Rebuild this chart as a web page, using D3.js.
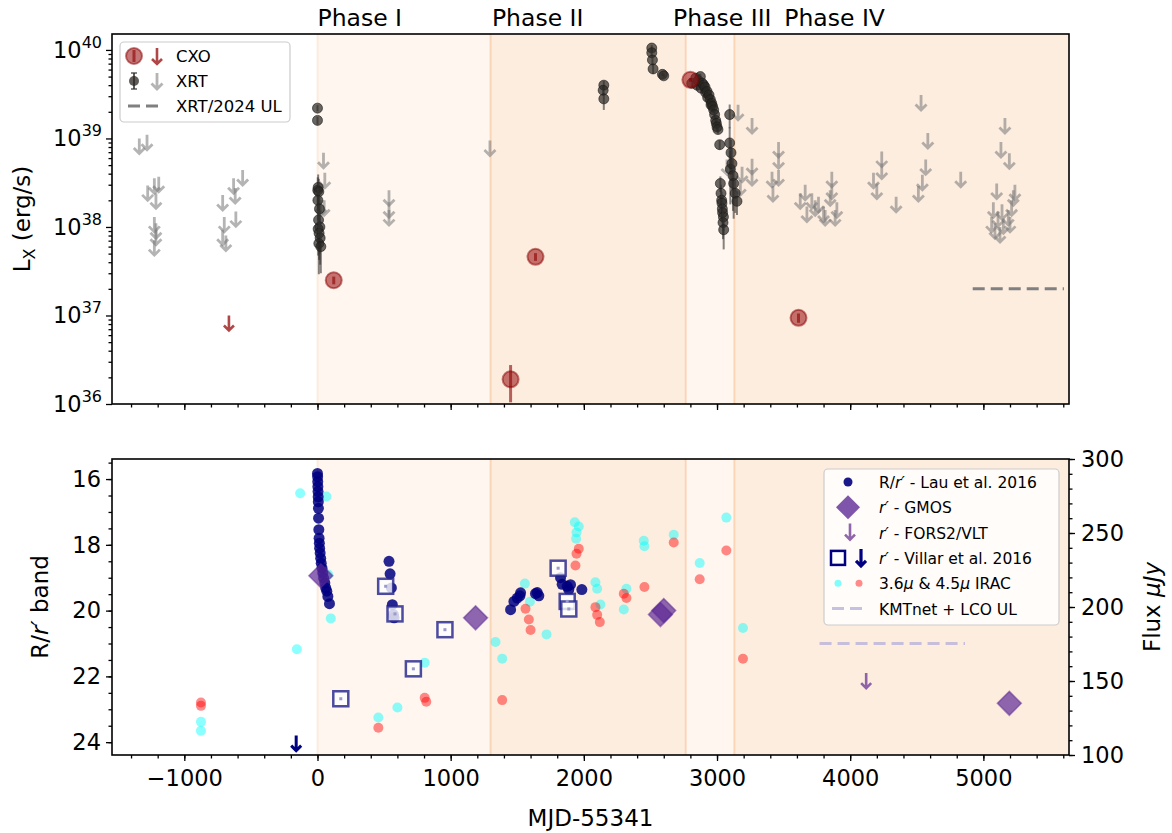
<!DOCTYPE html>
<html>
<head>
<meta charset="utf-8">
<script src="https://cdn.jsdelivr.net/npm/d3@7"></script>
<style>
  body { margin: 0; background: #fff; }
  text { font-family: "DejaVu Sans", sans-serif; fill: #000; }
</style>
</head>
<body>
<svg id="chart" width="1172" height="833"></svg>
<script>
// DATA (MJD-55341 on x)
const phaseNames = ["Phase I", "Phase II", "Phase III", "Phase IV"];
const phaseStarts = [0, 1300, 2765, 3130];
const phaseLabelAt = [0, 1310, 2670, 3505];

// X-ray: [mjd, L] and [mjd, L, fractional error]
const cxoDet = [[122, 2.5e37, 0.1], [1450, 1.9e36, 0.45], [1637, 4.6e37, 0.1], [2800, 4.6e39, 0.05], [3612, 9.4e36, 0.12]];
const cxoUL = [[-665, 1.0e37]];
const xrtDet = [
  [0, 2.2e39, 0.08], [0, 1.6e39, 0.1],
  [2, 2.6e38, 0.4], [5, 2.8e38, 0.4], [10, 2.5e38, 0.4], [3, 2.0e38, 0.4], [15, 1.6e38, 0.4],
  [8, 1.2e38, 0.5], [18, 1.0e38, 0.5], [5, 9.5e37, 0.5], [12, 8.5e37, 0.5], [20, 7.5e37, 0.5],
  [10, 6.5e37, 0.55], [25, 6.0e37, 0.5],
  [2150, 4.0e39, 0.12], [2145, 3.5e39, 0.12], [2150, 2.8e39, 0.25],
  [2510, 1.05e40, 0.08], [2510, 9.3e39, 0.08], [2515, 7.7e39, 0.12], [2520, 6.1e39, 0.12],
  [2590, 5.3e39, 0.04], [2600, 5.1e39, 0.04],
  [2810, 4.2e39, 0.1], [2840, 4.8e39, 0.1], [2850, 4.0e39, 0.1], [2860, 4.5e39, 0.08], [2875, 5.0e39, 0.08],
  [2880, 3.7e39, 0.08], [2890, 4.2e39, 0.08], [2900, 4.0e39, 0.08], [2910, 3.8e39, 0.08], [2915, 3.3e39, 0.08],
  [2925, 3.4e39, 0.08], [2930, 2.9e39, 0.08], [2940, 3.1e39, 0.08], [2950, 2.75e39, 0.08], [2955, 2.4e39, 0.08],
  [2960, 2.5e39, 0.08], [2967, 2.3e39, 0.08], [2975, 2.1e39, 0.08], [2982, 1.86e39, 0.1], [2990, 1.6e39, 0.1],
  [2995, 1.48e39, 0.1], [3000, 1.35e39, 0.1], [3007, 1.26e39, 0.1], [3020, 8.5e38, 0.12],
  [3025, 3.1e38, 0.2], [3030, 2.4e38, 0.25], [3035, 2.0e38, 0.25], [3037, 1.86e38, 0.25], [3040, 1.6e38, 0.3],
  [3042, 1.45e38, 0.3], [3048, 1.3e38, 0.3], [3045, 1.12e38, 0.35], [3050, 9.3e37, 0.4],
  [3095, 1.86e39, 0.3], [3095, 8.9e38, 0.5], [3100, 4.5e38, 0.6], [3105, 6.9e38, 0.4], [3112, 5.2e38, 0.5],
  [3120, 3.8e38, 0.6], [3125, 3.1e38, 0.6], [3137, 2.4e38, 0.4], [3150, 1.95e38, 0.3]
];
const xrtUL = [
  [-1338, 1.0e39], [-1280, 1.1e39], [-1275, 2.95e38], [-1225, 3.55e38], [-1192, 3.7e38], [-1213, 2.4e38],
  [-1225, 1.3e38], [-1213, 1.1e38], [-1213, 9.3e37], [-1225, 7.1e37],
  [-712, 2.3e38], [-700, 1.3e38], [-712, 9.3e37], [-688, 8.0e37], [-630, 3.55e38], [-618, 2.75e38],
  [-562, 4.4e38], [-613, 1.5e38],
  [45, 6.9e38], [55, 4.1e38], [50, 2.0e38], [25, 2.0e38],
  [537, 2.6e38], [537, 1.9e38], [537, 1.55e38], [1295, 9.5e38],
  [3158, 2.4e39], [3263, 1.7e39], [3462, 9.1e38], [3462, 6.8e38], [3462, 4.4e38], [3413, 4.2e38],
  [3420, 2.9e38], [3263, 5.9e38], [3263, 4.4e38], [3188, 4.8e38], [3175, 3.4e38], [3075, 5.8e38],
  [3625, 2.4e38], [3662, 3.0e38], [3675, 1.7e38], [3712, 2.4e38], [3737, 2.0e38], [3762, 2.2e38],
  [3800, 1.7e38], [3812, 1.55e38], [3862, 4.2e38], [3862, 3.1e38], [3850, 2.6e38], [3887, 1.55e38],
  [3900, 1.9e38],
  [4237, 7.1e38], [4237, 5.2e38], [4175, 4.1e38], [4200, 3.1e38], [4345, 2.2e38], [4532, 3.1e39],
  [4583, 1.15e39], [4567, 5.8e38], [4542, 3.9e38], [4512, 2.9e38], [4830, 4.2e38],
  [5162, 1.7e39], [5132, 9.1e38], [5195, 6.8e38], [5100, 3.1e38], [5075, 1.9e38], [5062, 1.3e38],
  [5087, 1.1e38], [5125, 1.0e38], [5150, 1.25e38], [5187, 1.55e38], [5212, 2.0e38], [5225, 2.6e38],
  [5237, 3.0e38], [5200, 1.3e38], [5110, 1.5e38], [5140, 1.8e38]
];
const xrt2024UL = [[4920, 2e37], [5605, 2e37]];

// optical: [mjd, mag]
const lauR = [
  [0, 15.83], [1, 15.93], [2, 16.08], [3, 16.23], [4, 16.38], [5, 16.54], [6, 16.69], [7, 16.89],
  [8, 17.19], [10, 17.54], [12, 17.8], [14, 17.95], [16, 18.1], [20, 18.25], [24, 18.41], [28, 18.56],
  [34, 18.71], [40, 18.86], [46, 19.01], [55, 19.16], [62, 19.31], [70, 19.41], [78, 19.57], [90, 19.79],
  [537, 18.5], [545, 18.88], [555, 19.31], [562, 19.82], [570, 20.12], [575, 20.22],
  [1450, 19.97], [1475, 19.72], [1500, 19.62], [1525, 19.46], [1520, 19.55], [1637, 19.48], [1662, 19.55],
  [1650, 19.45], [1825, 19.0], [1837, 19.2], [1875, 19.26], [1900, 19.21], [1887, 19.36], [1985, 19.36]
];
const gmos = [[25, 18.94], [1187, 20.22], [2575, 20.12], [2600, 20.0], [5195, 22.82]];
const forsUL = [[4120, 21.9]];
const villar = [[512, 19.26], [582, 20.1], [957, 20.58], [720, 21.77], [175, 22.68], [1807, 18.71], [1875, 19.72], [1887, 19.95]];
const villarUL = [[-160, 23.8]];
const kmtUL = [[3770, 21.0], [4862, 21.0]];

// IRAC fluxes in microJy: [mjd, flux]
const irac36 = [
  [-130, 276.9], [67, 274.7], [80, 221.9], [100, 192.3], [-155, 171.4], [-875, 122.4], [-875, 116.4],
  [457, 125.3], [600, 132.1], [805, 162.4], [1337, 176.3], [1387, 165.1], [1557, 215.8], [1595, 203.5],
  [1720, 181.5], [1932, 257.3], [1962, 254.4], [1945, 250.4], [1942, 246.1], [2087, 216.7], [2100, 212.3],
  [2125, 201.7], [2320, 212.3], [2300, 198.3], [2450, 244.8], [2455, 241.0], [2675, 248.8], [2870, 229.7],
  [3070, 260.4], [3195, 185.8]
];
const irac45 = [
  [-875, 135.5], [-875, 133.2], [805, 138.6], [817, 136.0], [457, 118.4], [1387, 137.1],
  [1562, 198.8], [1587, 191.6], [1600, 184.4], [1962, 239.4], [1945, 236.0], [1937, 228.0],
  [2087, 199.9], [2100, 194.7], [2120, 189.8], [2300, 209.0], [2320, 206.1], [2455, 213.5],
  [2675, 243.6], [2870, 218.8], [3070, 238.2], [3195, 165.0]
];

const xTicks = [-1000, 0, 1000, 2000, 3000, 4000, 5000];
const magTicks = [16, 18, 20, 22, 24];
const fluxTicks = [100, 150, 200, 250, 300];

// SETUP
const svg = d3.select("#chart");
const left = 112, right = 1069;
const top1 = 34, bot1 = 404;
const top2 = 459, bot2 = 755;

const x = d3.scaleLinear().domain([-1543, 5643]).range([left, right]);
const yL = d3.scaleLog().domain([1e36, Math.pow(10, 40.18)]).range([bot1, top1]);
const yMag = d3.scaleLinear().domain([15.39, 24.39]).range([top2, bot2]);
const yFlux = d3.scaleLinear().domain([100, 300]).range([bot2, top2]);

const sandy = "#f4a460";
const fmtInt = d3.format("d");

// phase shading in both panels
function drawPhases(g, y0, y1) {
  phaseStarts.forEach((s, i) => {
    const e = i < phaseStarts.length - 1 ? phaseStarts[i + 1] : x.domain()[1];
    g.append("rect")
      .attr("x", x(s)).attr("y", y0)
      .attr("width", x(e) - x(s)).attr("height", y1 - y0)
      .attr("fill", sandy).attr("fill-opacity", i % 2 === 0 ? 0.1 : 0.2);
    g.append("line")
      .attr("x1", x(s)).attr("x2", x(s)).attr("y1", y0).attr("y2", y1)
      .attr("stroke", sandy).attr("stroke-opacity", i === 0 ? 0.15 : 0.35).attr("stroke-width", 2);
  });
}

const gTop = svg.append("g");
const gBot = svg.append("g");
drawPhases(gTop, top1, bot1);
drawPhases(gBot, top2, bot2);

// phase labels
svg.selectAll(".phase").data(phaseNames).enter().append("text")
  .attr("x", (d, i) => x(phaseLabelAt[i]))
  .attr("y", 26)
  .attr("font-size", 23.5)
  .text(d => d);

function arrowPath(px, py, len, head) {
  return `M${px},${py}V${py + len}M${px - head},${py + len - head}L${px},${py + len}L${px + head},${py + len - head}`;
}

// TOP PANEL
svg.append("clipPath").attr("id", "ct").append("rect")
  .attr("x", left).attr("y", top1).attr("width", right - left).attr("height", bot1 - top1);
const marksTop = gTop.append("g").attr("clip-path", "url(#ct)");

// XRT upper limits
marksTop.selectAll(".xul").data(xrtUL).enter().append("path")
  .attr("d", d => arrowPath(x(d[0]), yL(d[1]), 15, 5.5))
  .attr("fill", "none").attr("stroke", "#777").attr("stroke-opacity", 0.55).attr("stroke-width", 2.8);

// XRT 2024 UL
marksTop.append("line")
  .attr("x1", x(xrt2024UL[0][0])).attr("x2", x(xrt2024UL[1][0]))
  .attr("y1", yL(xrt2024UL[0][1])).attr("y2", yL(xrt2024UL[1][1]))
  .attr("stroke", "#808080").attr("stroke-width", 3).attr("stroke-dasharray", "12,6");

// XRT detections with error bars
const xd = marksTop.selectAll(".xd").data(xrtDet).enter().append("g");
xd.append("line")
  .attr("x1", d => x(d[0])).attr("x2", d => x(d[0]))
  .attr("y1", d => yL(d[1] * (1 + d[2]))).attr("y2", d => yL(d[1] * Math.max(1 - d[2], 0.05)))
  .attr("stroke", "#333").attr("stroke-opacity", 0.6).attr("stroke-width", 2);
xd.append("circle")
  .attr("cx", d => x(d[0])).attr("cy", d => yL(d[1])).attr("r", 5)
  .attr("fill", "#2a2622").attr("fill-opacity", 0.7)
  .attr("stroke", "#1a1a1a").attr("stroke-opacity", 0.6).attr("stroke-width", 1);

// CXO
marksTop.selectAll(".cul").data(cxoUL).enter().append("path")
  .attr("d", d => arrowPath(x(d[0]), yL(d[1]), 15, 5))
  .attr("fill", "none").attr("stroke", "#a83232").attr("stroke-opacity", 0.9).attr("stroke-width", 2.6);
const cd = marksTop.selectAll(".cd").data(cxoDet).enter().append("g");
cd.append("circle")
  .attr("cx", d => x(d[0])).attr("cy", d => yL(d[1])).attr("r", 8)
  .attr("fill", "#9e1b1b").attr("fill-opacity", 0.6)
  .attr("stroke", "#8b0000").attr("stroke-opacity", 0.5).attr("stroke-width", 2);
cd.append("line")
  .attr("x1", d => x(d[0])).attr("x2", d => x(d[0]))
  .attr("y1", d => yL(d[1] * (1 + d[2]))).attr("y2", d => yL(d[1] * (1 - d[2])))
  .attr("stroke", "#8b0000").attr("stroke-opacity", 0.6).attr("stroke-width", 3);

// top axes (ticks only, labels are shared with the bottom panel)
gTop.append("g").attr("transform", `translate(0,${bot1})`)
  .call(d3.axisBottom(x).tickValues(d3.range(-1400, 5601, 200)).tickSize(3.5).tickFormat(""))
  .call(g => g.select(".domain").remove());
gTop.append("g").attr("transform", `translate(0,${bot1})`)
  .call(d3.axisBottom(x).tickValues(xTicks).tickSize(6).tickFormat(""))
  .call(g => g.select(".domain").remove());

const logMinor = [];
for (let e = 36; e < 41; e++) for (let m = 2; m <= 9; m++) if (m * Math.pow(10, e) < yL.domain()[1]) logMinor.push(m * Math.pow(10, e));
gTop.append("g").attr("transform", `translate(${left},0)`)
  .call(d3.axisLeft(yL).tickValues(logMinor).tickSize(3.5).tickFormat(""))
  .call(g => g.select(".domain").remove());
const logMajor = [1e36, 1e37, 1e38, 1e39, 1e40];
gTop.append("g").attr("transform", `translate(${left},0)`)
  .call(d3.axisLeft(yL).tickValues(logMajor).tickSize(6).tickFormat(""))
  .call(g => g.select(".domain").remove());
const lbl = gTop.selectAll(".ylab").data(logMajor).enter().append("text")
  .attr("x", left - 10).attr("y", d => yL(d) + 8)
  .attr("text-anchor", "end").attr("font-size", 22.5);
lbl.append("tspan").text("10");
lbl.append("tspan").attr("dy", -10).attr("font-size", 16).text(d => Math.round(Math.log10(d)));

gTop.append("rect").attr("x", left).attr("y", top1).attr("width", right - left).attr("height", bot1 - top1)
  .attr("fill", "none").attr("stroke", "#000").attr("stroke-width", 1.6);

const ylabTop = gTop.append("text")
  .attr("transform", `translate(30,${(top1 + bot1) / 2}) rotate(-90)`)
  .attr("text-anchor", "middle").attr("font-size", 23);
ylabTop.append("tspan").text("L");
ylabTop.append("tspan").attr("font-size", 16).attr("dy", 5).text("X");
ylabTop.append("tspan").attr("dy", -5).text(" (erg/s)");

// top legend
const lg1 = gTop.append("g");
lg1.append("rect").attr("x", 120).attr("y", 42).attr("width", 170).attr("height", 80).attr("rx", 4)
  .attr("fill", "#fff").attr("fill-opacity", 0.8).attr("stroke", "#ccc").attr("stroke-width", 1.2);
lg1.append("circle").attr("cx", 134).attr("cy", 56).attr("r", 8)
  .attr("fill", "#9e1b1b").attr("fill-opacity", 0.6).attr("stroke", "#8b0000").attr("stroke-opacity", 0.5).attr("stroke-width", 2);
lg1.append("line").attr("x1", 134).attr("x2", 134).attr("y1", 50).attr("y2", 62)
  .attr("stroke", "#8b0000").attr("stroke-opacity", 0.6).attr("stroke-width", 3);
lg1.append("path").attr("d", arrowPath(157, 48, 16, 5)).attr("fill", "none")
  .attr("stroke", "#a83232").attr("stroke-opacity", 0.9).attr("stroke-width", 2.6);
lg1.append("line").attr("x1", 134).attr("x2", 134).attr("y1", 73).attr("y2", 89)
  .attr("stroke", "#333").attr("stroke-opacity", 0.8).attr("stroke-width", 2);
lg1.append("line").attr("x1", 131).attr("x2", 137).attr("y1", 73).attr("y2", 73)
  .attr("stroke", "#333").attr("stroke-opacity", 0.8).attr("stroke-width", 1.5);
lg1.append("line").attr("x1", 131).attr("x2", 137).attr("y1", 89).attr("y2", 89)
  .attr("stroke", "#333").attr("stroke-opacity", 0.8).attr("stroke-width", 1.5);
lg1.append("circle").attr("cx", 134).attr("cy", 81).attr("r", 5).attr("fill", "#2a2622").attr("fill-opacity", 0.75);
lg1.append("path").attr("d", arrowPath(157, 73, 16, 5.5)).attr("fill", "none")
  .attr("stroke", "#777").attr("stroke-opacity", 0.55).attr("stroke-width", 2.8);
lg1.append("line").attr("x1", 128).attr("x2", 161).attr("y1", 106).attr("y2", 106)
  .attr("stroke", "#808080").attr("stroke-width", 3).attr("stroke-dasharray", "12,6");
lg1.selectAll(".t").data(["CXO", "XRT", "XRT/2024 UL"]).enter().append("text")
  .attr("x", 176).attr("y", (d, i) => 62 + i * 25).attr("font-size", 16.5).text(d => d);

// BOTTOM PANEL
svg.append("clipPath").attr("id", "cb").append("rect")
  .attr("x", left).attr("y", top2).attr("width", right - left).attr("height", bot2 - top2);
const marksBot = gBot.append("g").attr("clip-path", "url(#cb)");

marksBot.append("line")
  .attr("x1", x(kmtUL[0][0])).attr("x2", x(kmtUL[1][0]))
  .attr("y1", yMag(kmtUL[0][1])).attr("y2", yMag(kmtUL[1][1]))
  .attr("stroke", "#b9b2d9").attr("stroke-opacity", 0.8).attr("stroke-width", 3).attr("stroke-dasharray", "12,6");

marksBot.selectAll(".i36").data(irac36).enter().append("circle")
  .attr("cx", d => x(d[0])).attr("cy", d => yFlux(d[1])).attr("r", 5)
  .attr("fill", "#00ffff").attr("fill-opacity", 0.45);
marksBot.selectAll(".i45").data(irac45).enter().append("circle")
  .attr("cx", d => x(d[0])).attr("cy", d => yFlux(d[1])).attr("r", 5)
  .attr("fill", "#ff0000").attr("fill-opacity", 0.45);

marksBot.selectAll(".lau").data(lauR).enter().append("circle")
  .attr("cx", d => x(d[0])).attr("cy", d => yMag(d[1])).attr("r", 5.5)
  .attr("fill", "#000080").attr("fill-opacity", 0.85);

marksBot.selectAll(".vil").data(villar).enter().append("rect")
  .attr("x", d => x(d[0]) - 7.5).attr("y", d => yMag(d[1]) - 7.5).attr("width", 15).attr("height", 15)
  .attr("fill", "#fff").attr("fill-opacity", 0.8)
  .attr("stroke", "#1f1f8a").attr("stroke-opacity", 0.8).attr("stroke-width", 2.5);
marksBot.selectAll(".vild").data(villar).enter().append("rect")
  .attr("x", d => x(d[0]) - 1.5).attr("y", d => yMag(d[1]) - 1.5).attr("width", 3).attr("height", 3)
  .attr("fill", "#9a9acb");
marksBot.selectAll(".vul").data(villarUL).enter().append("path")
  .attr("d", d => arrowPath(x(d[0]), yMag(d[1]), 15, 5))
  .attr("fill", "none").attr("stroke", "#000080").attr("stroke-width", 3);

marksBot.selectAll(".gm").data(gmos).enter().append("path")
  .attr("d", d => { const cx = x(d[0]), cy = yMag(d[1]), r = 12; return `M${cx},${cy - r}L${cx + r},${cy}L${cx},${cy + r}L${cx - r},${cy}Z`; })
  .attr("fill", "#5e2a96").attr("fill-opacity", 0.7)
  .attr("stroke", "#5e2a96").attr("stroke-opacity", 0.5).attr("stroke-width", 1.5);
marksBot.selectAll(".fu").data(forsUL).enter().append("path")
  .attr("d", d => arrowPath(x(d[0]), yMag(d[1]), 15, 5))
  .attr("fill", "none").attr("stroke", "#7b4a9e").attr("stroke-opacity", 0.85).attr("stroke-width", 2.6);

// bottom axes
gBot.append("g").attr("transform", `translate(0,${bot2})`)
  .call(d3.axisBottom(x).tickValues(d3.range(-1400, 5601, 200)).tickSize(3.5).tickFormat(""))
  .call(g => g.select(".domain").remove());
gBot.append("g").attr("transform", `translate(0,${bot2})`)
  .call(d3.axisBottom(x).tickValues(xTicks).tickSize(6).tickPadding(9).tickFormat(fmtInt))
  .call(g => g.select(".domain").remove())
  .call(g => g.selectAll("text").attr("font-size", 22.5).attr("font-family", "DejaVu Sans").attr("fill", "#000"));

gBot.append("g").attr("transform", `translate(${left},0)`)
  .call(d3.axisLeft(yMag).tickValues(d3.range(15.5, 24.01, 0.5)).tickSize(3.5).tickFormat(""))
  .call(g => g.select(".domain").remove());
gBot.append("g").attr("transform", `translate(${left},0)`)
  .call(d3.axisLeft(yMag).tickValues(magTicks).tickSize(6).tickPadding(5).tickFormat(fmtInt))
  .call(g => g.select(".domain").remove())
  .call(g => g.selectAll("text").attr("font-size", 22.5).attr("font-family", "DejaVu Sans").attr("fill", "#000"));

gBot.append("g").attr("transform", `translate(${right},0)`)
  .call(d3.axisRight(yFlux).tickValues(d3.range(100, 301, 10)).tickSize(3.5).tickFormat(""))
  .call(g => g.select(".domain").remove());
gBot.append("g").attr("transform", `translate(${right},0)`)
  .call(d3.axisRight(yFlux).tickValues(fluxTicks).tickSize(6).tickPadding(6).tickFormat(fmtInt))
  .call(g => g.select(".domain").remove())
  .call(g => g.selectAll("text").attr("font-size", 22.5).attr("font-family", "DejaVu Sans").attr("fill", "#000"));

gBot.selectAll(".tick line").attr("stroke", "#000").attr("stroke-width", 1.3);
gTop.selectAll(".tick line").attr("stroke", "#000").attr("stroke-width", 1.3);

gBot.append("rect").attr("x", left).attr("y", top2).attr("width", right - left).attr("height", bot2 - top2)
  .attr("fill", "none").attr("stroke", "#000").attr("stroke-width", 1.6);

const ylabBot = gBot.append("text")
  .attr("transform", `translate(48,${(top2 + bot2) / 2}) rotate(-90)`)
  .attr("text-anchor", "middle").attr("font-size", 23);
ylabBot.append("tspan").text("R/");
ylabBot.append("tspan").attr("font-style", "italic").text("r′");
ylabBot.append("tspan").text(" band");

const ylabR = gBot.append("text")
  .attr("transform", `translate(1160,${(top2 + bot2) / 2}) rotate(-90)`)
  .attr("text-anchor", "middle").attr("font-size", 23);
ylabR.append("tspan").text("Flux ");
ylabR.append("tspan").attr("font-style", "italic").text("μJy");

svg.append("text").attr("x", (left + right) / 2).attr("y", 826)
  .attr("text-anchor", "middle").attr("font-size", 23).text("MJD-55341");

// bottom legend
const lg2 = gBot.append("g");
lg2.append("rect").attr("x", 824).attr("y", 469).attr("width", 235).attr("height", 156).attr("rx", 4)
  .attr("fill", "#fff").attr("fill-opacity", 0.8).attr("stroke", "#ccc").attr("stroke-width", 1.2);
const rowY = i => 482 + i * 25.3;
lg2.append("circle").attr("cx", 848).attr("cy", rowY(0)).attr("r", 4.5).attr("fill", "#000080").attr("fill-opacity", 0.9);
lg2.append("path").attr("d", `M848,${rowY(1) - 12}L860,${rowY(1)}L848,${rowY(1) + 12}L836,${rowY(1)}Z`)
  .attr("fill", "#5e2a96").attr("fill-opacity", 0.8);
lg2.append("path").attr("d", arrowPath(850, rowY(2) - 9, 16, 5)).attr("fill", "none")
  .attr("stroke", "#7b4a9e").attr("stroke-opacity", 0.85).attr("stroke-width", 2.6);
lg2.append("rect").attr("x", 831).attr("y", rowY(3) - 7).attr("width", 14).attr("height", 14)
  .attr("fill", "#fff").attr("stroke", "#000080").attr("stroke-width", 2.5);
lg2.append("path").attr("d", arrowPath(861, rowY(3) - 9, 17, 5)).attr("fill", "none")
  .attr("stroke", "#000080").attr("stroke-width", 3.2);
lg2.append("circle").attr("cx", 838).attr("cy", rowY(4)).attr("r", 3.5).attr("fill", "#00ffff").attr("fill-opacity", 0.5);
lg2.append("circle").attr("cx", 859).attr("cy", rowY(4)).attr("r", 3.5).attr("fill", "#ff0000").attr("fill-opacity", 0.45);
lg2.append("line").attr("x1", 832).attr("x2", 864).attr("y1", rowY(5)).attr("y2", rowY(5))
  .attr("stroke", "#b9b2d9").attr("stroke-opacity", 0.8).attr("stroke-width", 3).attr("stroke-dasharray", "12,6");

const legRows = [
  [["R/", false], ["r′", true], [" - Lau et al. 2016", false]],
  [["r′", true], [" - GMOS", false]],
  [["r′", true], [" - FORS2/VLT", false]],
  [["r′", true], [" - Villar et al. 2016", false]],
  [["3.6", false], ["μ", true], [" & 4.5", false], ["μ", true], [" IRAC", false]],
  [["KMTnet + LCO UL", false]]
];
legRows.forEach((parts, i) => {
  const t = lg2.append("text").attr("x", 879).attr("y", rowY(i) + 6).attr("font-size", 15.5);
  parts.forEach(p => t.append("tspan").attr("font-style", p[1] ? "italic" : null).text(p[0]));
});
</script>
</body>
</html>
